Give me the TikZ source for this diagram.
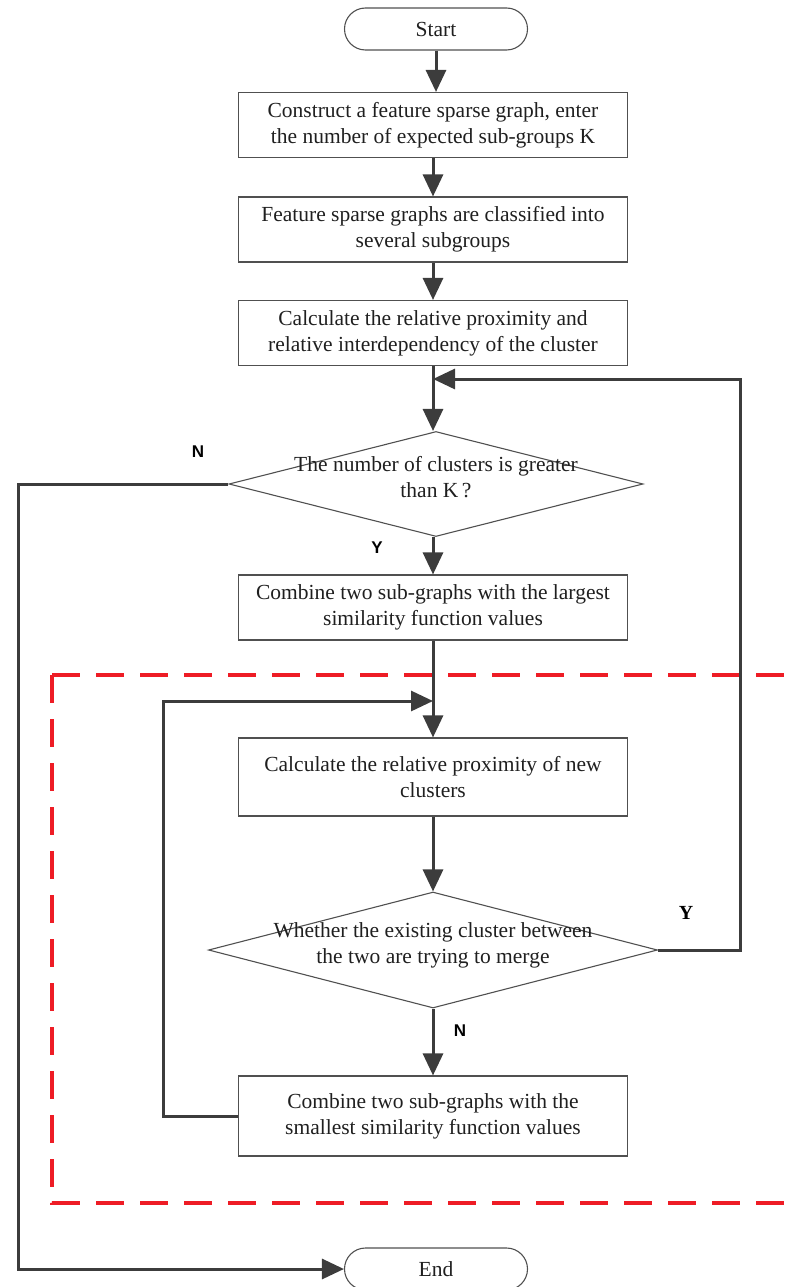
\documentclass[tikz,border=0pt]{standalone}
\usepackage{fontspec}
\setmainfont{Liberation Serif}
\newfontfamily\labsans{Liberation Sans}
\usetikzlibrary{arrows.meta,shapes.geometric,shapes.misc}
\definecolor{linegray}{HTML}{3C3C3C}
\definecolor{boxgray}{HTML}{505050}
\definecolor{dashred}{HTML}{EE1C25}
\begin{document}
\begin{tikzpicture}[x=1pt,y=-1pt,
  every node/.style={font=\fontsize{21.5}{26}\selectfont, text=black!88},
  procbox/.style={draw=boxgray, line width=1.1pt, rectangle, minimum width=389pt, align=center, inner sep=0pt},
  termbox/.style={draw=boxgray, line width=1.1pt, rounded rectangle, minimum width=183pt, minimum height=42pt, inner sep=0pt},
  decbox/.style={draw=boxgray, line width=1.1pt, diamond, inner sep=0pt},
  flow/.style={draw=linegray, line width=3pt, -{Triangle[length=22pt,width=20pt]}},
  labsf/.style={font=\labsans\bfseries\fontsize{17}{20}\selectfont, text=black},
  labsr/.style={font=\bfseries\fontsize{20}{22}\selectfont, text=black},
  redframe/.style={draw=dashred, line width=3.5pt, dash pattern=on 28pt off 16pt}
]
\useasboundingbox (0,0) rectangle (788,1287);

% red dashed frame
\draw[redframe] (52,675) -- (790,675);
\draw[redframe] (52,675) -- (52,1203) -- (790,1203);

% nodes
\node[termbox] (start) at (436,29) {Start};
\node[procbox, minimum height=65pt] (b1) at (433,125) {Construct a feature sparse graph, enter\\the number of expected sub-groups K};
\node[procbox, minimum height=65pt] (b2) at (433,229.5) {Feature sparse graphs are classified into\\several subgroups};
\node[procbox, minimum height=65pt] (b3) at (433,333) {Calculate the relative proximity and\\relative interdependency of the cluster};
\node[decbox, minimum width=414pt, minimum height=105pt] (d1) at (436,484)
  {\smash{\makebox[0pt]{\begin{tabular}[c]{@{}c@{}}The number of clusters is greater\\than K\,?\end{tabular}}}};
\node[procbox, minimum height=65pt] (b4) at (433,607.5) {Combine two sub-graphs with the largest\\similarity function values};
\node[procbox, minimum height=78pt] (b5) at (433,777) {Calculate the relative proximity of new\\clusters};
\node[decbox, minimum width=449pt, minimum height=116pt] (d2) at (433,950)
  {\smash{\makebox[0pt]{\begin{tabular}[c]{@{}c@{}}Whether the existing cluster between\\the two are trying to merge\end{tabular}}}};
\node[procbox, minimum height=80pt] (b6) at (433,1116) {Combine two sub-graphs with the\\smallest similarity function values};
\node[termbox] (end) at (436,1269) {End};

% labels
\node[labsf] (lN1) at (198,452) {N};
\node[labsf] (lY1) at (377,548) {Y};
\node[labsr] (lY2) at (686,913) {Y};
\node[labsf] (lN2) at (460,1031) {N};

% helper coordinates
\coordinate (j1) at (433,379);
\coordinate (r1) at (740,379);
\coordinate (j2) at (433,701);
\coordinate (l2) at (163,701);
\coordinate (nl) at (18,1269);

% connectors
\draw[flow] (start.south) -- (b1.north -| start.south);
\draw[flow] (b1) -- (b2);
\draw[flow] (b2) -- (b3);
\draw[flow] (b3.south) -- (d1.north -| b3.south);
\draw[flow] (d1.south -| b4.north) -- (b4);
\draw[flow] (b4) -- (b5);
\draw[flow] (b5) -- (d2);
\draw[flow] (d2) -- (b6);
\draw[flow] (d2.east) -| (r1) -- (j1);
\draw[flow] (b6.west) -| (l2) -- (j2);
\draw[flow] (d1.west) -| (nl) -- (end.west);
\end{tikzpicture}
\end{document}
